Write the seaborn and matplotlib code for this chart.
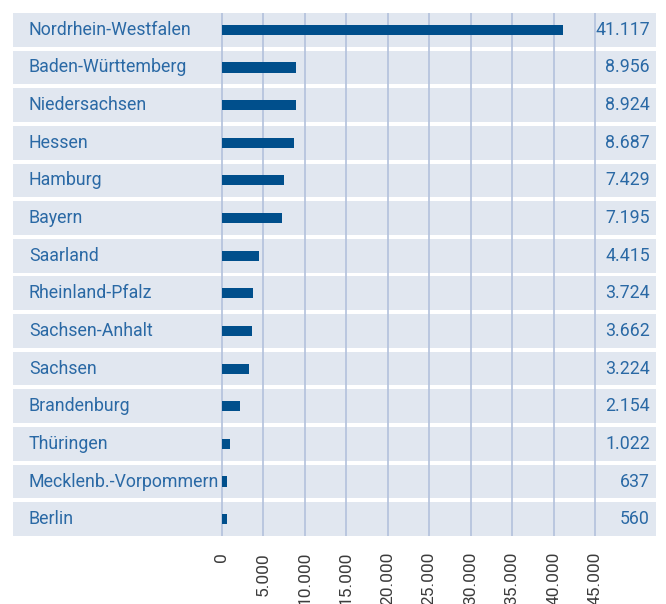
import matplotlib
matplotlib.use("Agg")
import matplotlib.pyplot as plt
import seaborn as sns
import pandas as pd

# Daten
laender = ["Nordrhein-Westfalen", "Baden-Württemberg", "Niedersachsen", "Hessen",
           "Hamburg", "Bayern", "Saarland", "Rheinland-Pfalz", "Sachsen-Anhalt",
           "Sachsen", "Brandenburg", "Thüringen", "Mecklenb.-Vorpommern", "Berlin"]
werte = [41117, 8956, 8924, 8687, 7429, 7195, 4415, 3724, 3662, 3224, 2154, 1022, 637, 560]
ticks = [0, 5000, 10000, 15000, 20000, 25000, 30000, 35000, 40000, 45000]

df = pd.DataFrame({"land": laender, "wert": werte})

sns.set_style("white")
plt.rcParams["font.family"] = ["Roboto", "DejaVu Sans"]

farbe_balken = "#004f8c"
farbe_band = "#e1e7f0"
farbe_text = "#2a69a5"
farbe_gitter = "#b3c1dc"

W, H = 666, 604
fig = plt.figure(figsize=(W / 100, H / 100), dpi=100)
links, rechts, oben, unten = 13, 656, 11, 538
ax = fig.add_axes([links / W, 1 - unten / H, (rechts - links) / W, (unten - oben) / H])

# x-Achse: 0 bei px 222, 45.000 bei px 595
px_pro_wert = (595 - 222) / 45000
ax.set_xlim(-(222 - links) / px_pro_wert, 45000 + (rechts - 595) / px_pro_wert)

n = len(laender)
for i in range(n):
    ax.axhspan(i - 0.447, i + 0.447, color=farbe_band, zorder=0, lw=0)

ax.vlines(ticks, -0.447, n - 1 + 0.447, color=farbe_gitter, lw=1.2, zorder=1)

sns.barplot(data=df, x="wert", y="land", orient="h", color=farbe_balken,
            width=0.27, saturation=1, linewidth=0, edgecolor="none", ax=ax, zorder=2)

ax.set_ylim(n - 0.5, -0.5)
ax.set_yticks([])
ax.set_ylabel("")
ax.set_xlabel("")

for i, (land, wert) in enumerate(zip(laender, werte)):
    ax.text((29 - links) / (rechts - links), i, land, transform=ax.get_yaxis_transform(),
            ha="left", va="center", fontsize=12.8, color=farbe_text)
    ax.text((650 - links) / (rechts - links), i, f"{wert:,}".replace(",", "."),
            transform=ax.get_yaxis_transform(), ha="right", va="center",
            fontsize=12.8, color=farbe_text)

ax.set_xticks(ticks)
ax.set_xticklabels([f"{t:,}".replace(",", ".") for t in ticks], rotation=90,
                   fontsize=12.5, color="#3c3c3c", va="top", ha="center")
ax.tick_params(axis="x", length=0, pad=10)

for spine in ax.spines.values():
    spine.set_visible(False)

fig.savefig("out.png", dpi=100)
